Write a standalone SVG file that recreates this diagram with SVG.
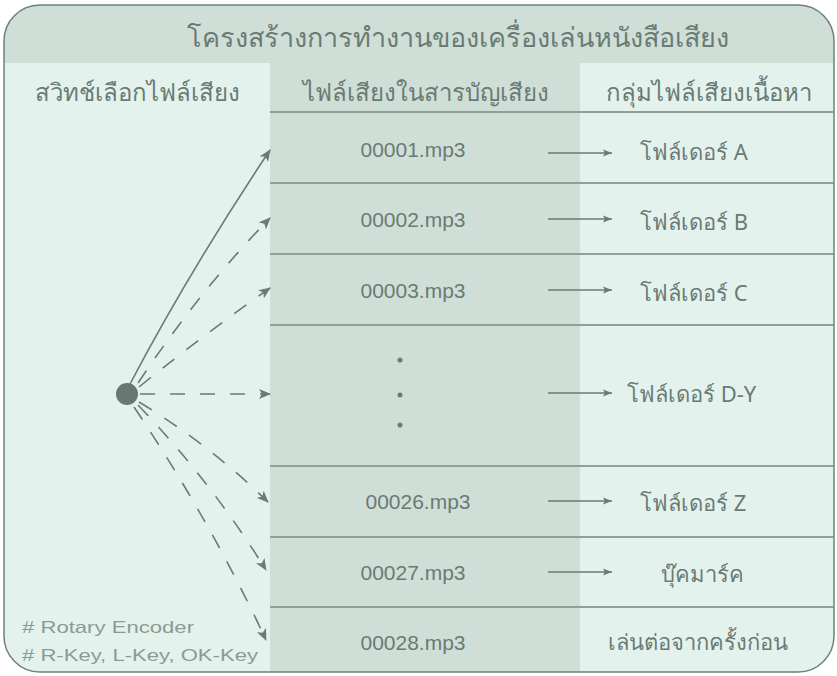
<svg xmlns="http://www.w3.org/2000/svg" width="837" height="676" viewBox="0 0 837 676">
<style>
.t{font-family:"Noto Sans","DejaVu Sans",sans-serif;fill:#6a7b73}
.h{font-size:24px}
.f{font-family:"Liberation Sans","Noto Sans",sans-serif;font-size:21px;fill:#6a7b73;text-anchor:middle}
.l{font-size:22px}
.row{stroke:#8ca298;stroke-width:2}
.c{fill:none;stroke:#6a7b73;stroke-width:1.6}
.d{fill:none;stroke:#6a7b73;stroke-width:1.6;stroke-dasharray:15 15}
.n{font-family:"Liberation Sans",sans-serif;font-size:17px;fill:#8a9b93}
</style>
<defs>
<clipPath id="clip"><rect x="4" y="5" width="830" height="667" rx="36" ry="36"/></clipPath>
<marker id="ah" viewBox="0 0 12 10" refX="11" refY="5" markerWidth="12" markerHeight="10" markerUnits="userSpaceOnUse" orient="auto">
<path d="M0,0 L12,5 L0,10 L3,5 Z" fill="#6a7b73"/>
</marker>
<marker id="as" viewBox="0 0 10 8" refX="10" refY="4" markerWidth="9" markerHeight="8" markerUnits="userSpaceOnUse" orient="auto">
<path d="M0,0 L10,4 L0,8 L2,4 Z" fill="#6a7b73"/>
</marker>
</defs>
<g id="frame" clip-path="url(#clip)">
<rect x="0" y="0" width="837" height="676" fill="#e4f2ee"/>
<rect x="0" y="0" width="837" height="63" fill="#cfdfd8"/>
<rect x="270" y="63" width="310" height="613" fill="#cfdfd8"/>
<line class="row" x1="270" y1="112" x2="837" y2="112"/>
<line class="row" x1="270" y1="183" x2="837" y2="183"/>
<line class="row" x1="270" y1="254" x2="837" y2="254"/>
<line class="row" x1="270" y1="325" x2="837" y2="325"/>
<line class="row" x1="270" y1="466" x2="837" y2="466"/>
<line class="row" x1="270" y1="537" x2="837" y2="537"/>
<line class="row" x1="270" y1="607" x2="837" y2="607"/>
</g>
<rect x="4" y="5" width="830" height="667" rx="36" ry="36" fill="none" stroke="#6f8078" stroke-width="1.5"/>
<g id="title"><text class="t" x="458" y="47" font-size="27" text-anchor="middle">โครงสร้างการทำงานของเครื่องเล่นหนังสือเสียง</text></g>
<g id="headers">
<text class="t h" x="137" y="101" text-anchor="middle">สวิทช์เลือกไฟล์เสียง</text>
<text class="t h" x="426" y="101" text-anchor="middle">ไฟล์เสียงในสารบัญเสียง</text>
<text class="t h" x="709" y="101" text-anchor="middle">กลุ่มไฟล์เสียงเนื้อหา</text>
</g>
<g id="switch">
<circle cx="127" cy="394" r="11" fill="#66786f"/>
<text class="n" x="22" y="633" textLength="172" lengthAdjust="spacingAndGlyphs"># Rotary Encoder</text>
<text class="n" x="22" y="661" textLength="236" lengthAdjust="spacingAndGlyphs"># R-Key, L-Key, OK-Key</text>
</g>
<g id="files">
<text class="f" x="413" y="157">00001.mp3</text>
<text class="f" x="413" y="227">00002.mp3</text>
<text class="f" x="413" y="298">00003.mp3</text>
<circle cx="400" cy="360" r="2.5" fill="#6a7b73"/>
<circle cx="400" cy="395" r="2.5" fill="#6a7b73"/>
<circle cx="400" cy="425" r="2.5" fill="#6a7b73"/>
<text class="f" x="418" y="509">00026.mp3</text>
<text class="f" x="413" y="580">00027.mp3</text>
<text class="f" x="413" y="650">00028.mp3</text>
</g>
<g id="folders">
<text class="t l" x="640" y="160">โฟล์เดอร์  A</text>
<text class="t l" x="640" y="230">โฟล์เดอร์  B</text>
<text class="t l" x="640" y="301">โฟล์เดอร์  C</text>
<text class="t l" x="627" y="402">โฟล์เดอร์   D-Y</text>
<text class="t l" x="640" y="511">โฟล์เดอร์  Z</text>
<text class="t l" x="702" y="582" text-anchor="middle">บุ๊คมาร์ค</text>
<text class="t l" x="698" y="650" text-anchor="middle">เล่นต่อจากครั้งก่อน</text>
</g>
<g id="connectors">
<path class="c" d="M130,384 Q190,270 270,150" marker-end="url(#ah)"/>
<path class="d" d="M138,383 Q200,290 270,218" marker-end="url(#ah)"/>
<path class="d" d="M139,387 Q210,330 270,288" marker-end="url(#ah)"/>
<path class="d" d="M140,394 L270,394" marker-end="url(#ah)"/>
<path class="d" d="M139,402 Q210,445 268,502" marker-end="url(#ah)"/>
<path class="d" d="M138,405 Q210,480 266,570" marker-end="url(#ah)"/>
<path class="d" d="M134,407 Q210,520 266,640" marker-end="url(#ah)"/>
<line class="c" x1="548" y1="153" x2="612" y2="153" marker-end="url(#as)"/>
<line class="c" x1="548" y1="219" x2="612" y2="219" marker-end="url(#as)"/>
<line class="c" x1="548" y1="290" x2="612" y2="290" marker-end="url(#as)"/>
<line class="c" x1="548" y1="393" x2="612" y2="393" marker-end="url(#as)"/>
<line class="c" x1="548" y1="501" x2="612" y2="501" marker-end="url(#as)"/>
<line class="c" x1="548" y1="572" x2="612" y2="572" marker-end="url(#as)"/>
</g>
</svg>
